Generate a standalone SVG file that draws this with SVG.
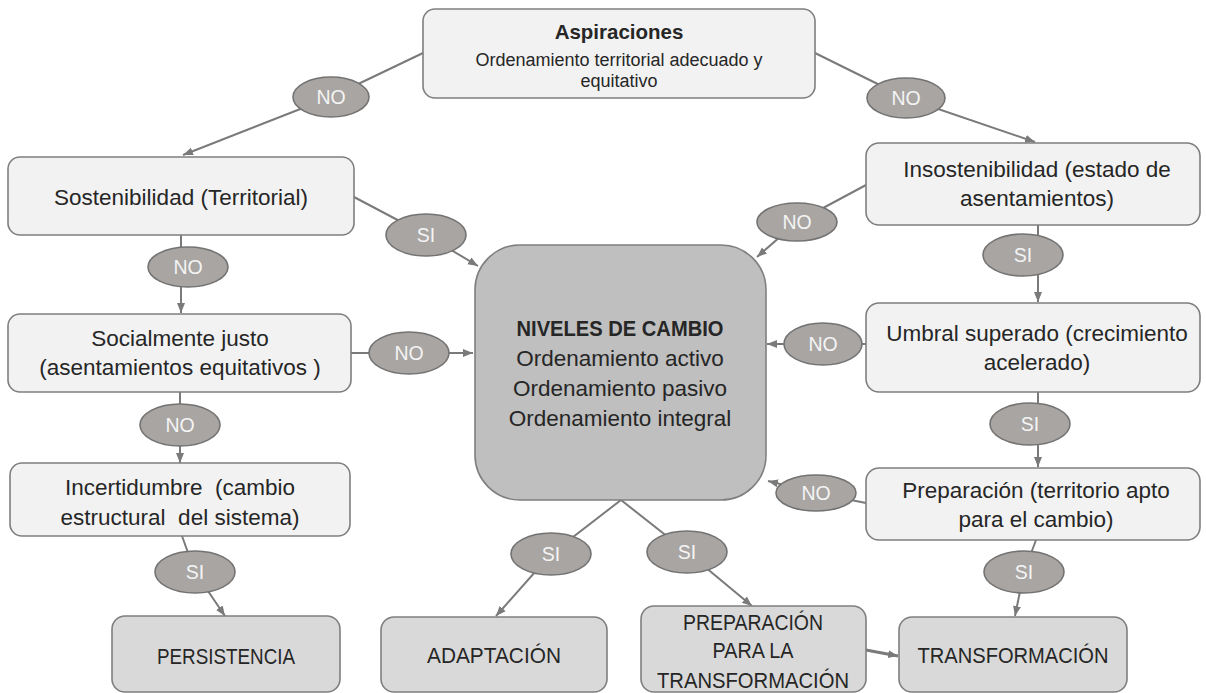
<svg xmlns="http://www.w3.org/2000/svg" width="1206" height="693" viewBox="0 0 1206 693">
<defs>
<marker id="ah" markerUnits="userSpaceOnUse" markerWidth="10" markerHeight="10" viewBox="0 0 10 10" refX="10" refY="5" orient="auto">
<path d="M0,1 L10,5 L0,9 Z" fill="#7a7a7a"/>
</marker>
<style>
.light{fill:#f2f2f2;stroke:#7f7f7f;stroke-width:1.6}
.dark{fill:#d9d9d9;stroke:#7f7f7f;stroke-width:1.6}
.center{fill:#bfbfbf;stroke:#7f7f7f;stroke-width:1.6}
.oval{fill:#a8a5a3;stroke:#737373;stroke-width:1.6}
.t{font-family:"Liberation Sans",Arial,sans-serif;font-size:22.5px;fill:#262626;text-anchor:middle}
.c{font-family:"Liberation Sans",Arial,sans-serif;font-size:22px;fill:#262626;text-anchor:middle}
.b{font-weight:bold}
.o{font-family:"Liberation Sans",Arial,sans-serif;font-size:19.5px;fill:#f4f4f4;text-anchor:middle}
.cn{stroke:#7a7a7a;stroke-width:2;fill:none}
.ar{stroke:#7a7a7a;stroke-width:2;fill:none;marker-end:url(#ah)}
</style>
</defs>
<rect width="1206" height="693" fill="#ffffff"/>
<g id="connectors">
<line class="cn" x1="423" y1="53" x2="331" y2="97"/>
<line class="ar" x1="331" y1="97" x2="183" y2="155"/>
<line class="cn" x1="815" y1="53" x2="906" y2="98"/>
<line class="ar" x1="906" y1="98" x2="1035" y2="142"/>
<line class="cn" x1="354" y1="197" x2="426" y2="235"/>
<line class="ar" x1="426" y1="235" x2="478" y2="266"/>
<line class="cn" x1="181" y1="235" x2="181" y2="267"/>
<line class="ar" x1="181" y1="267" x2="181" y2="313"/>
<line class="cn" x1="351" y1="353" x2="409" y2="353"/>
<line class="ar" x1="409" y1="353" x2="473" y2="353"/>
<line class="cn" x1="180" y1="392" x2="180" y2="425"/>
<line class="ar" x1="180" y1="425" x2="180" y2="463"/>
<line class="cn" x1="182" y1="536" x2="195" y2="572"/>
<line class="ar" x1="195" y1="572" x2="225" y2="616"/>
<line class="cn" x1="866" y1="185" x2="797" y2="222"/>
<line class="ar" x1="797" y1="222" x2="757" y2="257"/>
<line class="cn" x1="1038" y1="225" x2="1038" y2="255"/>
<line class="ar" x1="1038" y1="255" x2="1038" y2="302"/>
<line class="cn" x1="866" y1="344" x2="823" y2="344"/>
<line class="ar" x1="823" y1="344" x2="767" y2="344"/>
<line class="cn" x1="1038" y1="392" x2="1038" y2="424"/>
<line class="ar" x1="1038" y1="424" x2="1038" y2="467"/>
<line class="cn" x1="866" y1="503" x2="816" y2="493"/>
<line class="ar" x1="816" y1="493" x2="768" y2="481"/>
<line class="cn" x1="1036" y1="540" x2="1024" y2="572"/>
<line class="ar" x1="1024" y1="572" x2="1015" y2="616"/>
<line class="cn" x1="621" y1="500" x2="551" y2="554"/>
<line class="ar" x1="551" y1="554" x2="496" y2="616"/>
<line class="cn" x1="621" y1="500" x2="687" y2="552"/>
<line class="ar" x1="687" y1="552" x2="752" y2="606"/>
<line class="ar" x1="866" y1="650" x2="898" y2="656" style="stroke-width:3"/>
</g>
<g id="aspiraciones">
<rect class="light" x="423" y="9" width="392" height="89" rx="12"/>
<text class="t b" x="619" y="39" style="font-size:20.5px">Aspiraciones</text>
<text class="t" x="619" y="66" style="font-size:18px">Ordenamiento territorial adecuado y</text>
<text class="t" x="619" y="87" style="font-size:18px">equitativo</text>
</g>
<g id="sostenibilidad">
<rect class="light" x="8" y="157" width="346" height="78" rx="12"/>
<text class="t" x="181" y="205">Sostenibilidad (Territorial)</text>
</g>
<g id="socialmente">
<rect class="light" x="8" y="314" width="343" height="78" rx="12"/>
<text class="t" x="180" y="346">Socialmente justo</text>
<text class="t" x="180" y="375">(asentamientos equitativos )</text>
</g>
<g id="incertidumbre">
<rect class="light" x="10" y="463" width="340" height="73" rx="12"/>
<text class="t" x="180" y="495">Incertidumbre &#160;(cambio</text>
<text class="t" x="180" y="525">estructural &#160;del sistema)</text>
</g>
<g id="insostenibilidad">
<rect class="light" x="866" y="143" width="334" height="82" rx="13"/>
<text class="t" x="1037" y="177">Insostenibilidad (estado de</text>
<text class="t" x="1037" y="206">asentamientos)</text>
</g>
<g id="umbral">
<rect class="light" x="866" y="303" width="334" height="89" rx="13"/>
<text class="t" x="1037" y="341">Umbral superado (crecimiento</text>
<text class="t" x="1037" y="370">acelerado)</text>
</g>
<g id="preparacion-territorio">
<rect class="light" x="866" y="468" width="334" height="72" rx="13"/>
<text class="t" x="1036" y="498">Preparación (territorio apto</text>
<text class="t" x="1036" y="527">para el cambio)</text>
</g>
<g id="niveles">
<rect class="center" x="475" y="245" width="291" height="255" rx="45"/>
<text class="c b" x="620" y="336" textLength="207" lengthAdjust="spacingAndGlyphs">NIVELES DE CAMBIO</text>
<text class="t" x="620" y="366">Ordenamiento activo</text>
<text class="t" x="620" y="396">Ordenamiento pasivo</text>
<text class="t" x="620" y="426">Ordenamiento integral</text>
</g>
<g id="persistencia">
<rect class="dark" x="112" y="616" width="228" height="76" rx="13"/>
<text class="c" x="226" y="664" textLength="138" lengthAdjust="spacingAndGlyphs">PERSISTENCIA</text>
</g>
<g id="adaptacion">
<rect class="dark" x="381" y="617" width="226" height="75" rx="13"/>
<text class="c" x="494" y="663" textLength="134" lengthAdjust="spacingAndGlyphs">ADAPTACIÓN</text>
</g>
<g id="preparacion-transformacion">
<rect class="dark" x="641" y="606" width="225" height="86" rx="13"/>
<text class="c" x="753" y="630" textLength="140" lengthAdjust="spacingAndGlyphs">PREPARACIÓN</text>
<text class="c" x="753" y="658" textLength="81" lengthAdjust="spacingAndGlyphs">PARA LA</text>
<text class="c" x="753" y="688" textLength="192" lengthAdjust="spacingAndGlyphs">TRANSFORMACIÓN</text>
</g>
<g id="transformacion">
<rect class="dark" x="899" y="617" width="228" height="75" rx="13"/>
<text class="c" x="1013" y="663" textLength="191" lengthAdjust="spacingAndGlyphs">TRANSFORMACIÓN</text>
</g>
<g id="label-no-1"><ellipse class="oval" cx="331" cy="97" rx="38" ry="20"/><text class="o" x="331" y="104">NO</text></g>
<g id="label-no-2"><ellipse class="oval" cx="906" cy="98" rx="39" ry="20"/><text class="o" x="906" y="105">NO</text></g>
<g id="label-si-3"><ellipse class="oval" cx="426" cy="235" rx="40" ry="21"/><text class="o" x="426" y="242">SI</text></g>
<g id="label-no-4"><ellipse class="oval" cx="188" cy="267" rx="40" ry="20"/><text class="o" x="188" y="274">NO</text></g>
<g id="label-no-5"><ellipse class="oval" cx="409" cy="353" rx="40" ry="21"/><text class="o" x="409" y="360">NO</text></g>
<g id="label-no-6"><ellipse class="oval" cx="180" cy="425" rx="40" ry="21"/><text class="o" x="180" y="432">NO</text></g>
<g id="label-si-7"><ellipse class="oval" cx="195" cy="572" rx="40" ry="21"/><text class="o" x="195" y="579">SI</text></g>
<g id="label-no-8"><ellipse class="oval" cx="797" cy="222" rx="40" ry="19"/><text class="o" x="797" y="229">NO</text></g>
<g id="label-si-9"><ellipse class="oval" cx="1023" cy="255" rx="40" ry="21"/><text class="o" x="1023" y="262">SI</text></g>
<g id="label-no-10"><ellipse class="oval" cx="823" cy="344" rx="39" ry="21"/><text class="o" x="823" y="351">NO</text></g>
<g id="label-si-11"><ellipse class="oval" cx="1030" cy="424" rx="40" ry="21"/><text class="o" x="1030" y="431">SI</text></g>
<g id="label-no-12"><ellipse class="oval" cx="816" cy="493" rx="40" ry="18"/><text class="o" x="816" y="500">NO</text></g>
<g id="label-si-13"><ellipse class="oval" cx="1024" cy="572" rx="40" ry="21"/><text class="o" x="1024" y="579">SI</text></g>
<g id="label-si-14"><ellipse class="oval" cx="551" cy="554" rx="40" ry="21"/><text class="o" x="551" y="561">SI</text></g>
<g id="label-si-15"><ellipse class="oval" cx="687" cy="552" rx="40" ry="21"/><text class="o" x="687" y="559">SI</text></g>
</svg>
